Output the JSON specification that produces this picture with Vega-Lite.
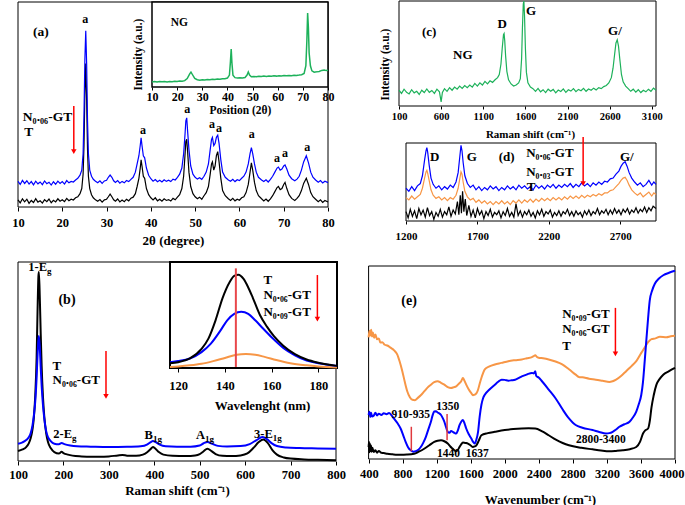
{
"$schema": "https://vega.github.io/schema/vega-lite/v6.json",
"width": 685, "height": 505, "autosize": {"type": "none"}, "padding": 0,
"config": {
 "view": {"stroke": null},
 "axis": {"grid": false, "domain": false, "format": "d", "labelFont": "Liberation Serif", "labelFontWeight": "bold", "labelColor": "#000", "titleFont": "Liberation Serif", "titleFontWeight": "bold", "titleColor": "#000", "tickColor": "#000", "labelFlush": false, "labelOverlap": false, "titleBaseline": "middle", "titleAlign": "center"},
 "text": {"font": "Liberation Serif", "fontWeight": "bold", "baseline": "middle", "color": "#000"}
},
"resolve": {"scale": {"x": "independent", "y": "independent", "color": "independent"}, "axis": {"x": "independent", "y": "independent"}, "legend": {"color": "independent"}},
"datasets": {
 "a_main": [
{"x":10,"y":3.5,"s":"T"},{"x":10.5,"y":2,"s":"T"},{"x":11,"y":4,"s":"T"},{"x":11.5,"y":2.5,"s":"T"},{"x":12,"y":3.8,"s":"T"},{"x":12.5,"y":1.8,"s":"T"},{"x":13,"y":3.2,"s":"T"},{"x":13.5,"y":2.2,"s":"T"},{"x":14,"y":4.1,"s":"T"},{"x":14.5,"y":2.4,"s":"T"},{"x":15,"y":3,"s":"T"},{"x":15.5,"y":1.9,"s":"T"},{"x":16,"y":3.6,"s":"T"},{"x":16.5,"y":2.6,"s":"T"},{"x":17,"y":3.9,"s":"T"},{"x":17.5,"y":2.1,"s":"T"},{"x":18,"y":3.3,"s":"T"},{"x":18.5,"y":2.5,"s":"T"},{"x":19,"y":4,"s":"T"},{"x":19.5,"y":2.8,"s":"T"},{"x":20,"y":3.5,"s":"T"},{"x":20.5,"y":2.6,"s":"T"},{"x":21,"y":4.2,"s":"T"},{"x":21.5,"y":3.1,"s":"T"},{"x":22,"y":3.8,"s":"T"},{"x":22.5,"y":3.4,"s":"T"},{"x":23,"y":4.5,"s":"T"},{"x":23.5,"y":5,"s":"T"},{"x":24,"y":6.5,"s":"T"},{"x":24.4,"y":9,"s":"T"},{"x":24.7,"y":16,"s":"T"},{"x":24.9,"y":30,"s":"T"},{"x":25.1,"y":55,"s":"T"},{"x":25.3,"y":70,"s":"T"},{"x":25.5,"y":52,"s":"T"},{"x":25.7,"y":28,"s":"T"},{"x":25.9,"y":15,"s":"T"},{"x":26.2,"y":9,"s":"T"},{"x":26.6,"y":6,"s":"T"},{"x":27,"y":4.5,"s":"T"},{"x":27.5,"y":3.5,"s":"T"},{"x":28,"y":2.8,"s":"T"},{"x":28.5,"y":3.6,"s":"T"},{"x":29,"y":2.4,"s":"T"},{"x":29.5,"y":3.5,"s":"T"},{"x":30,"y":3.8,"s":"T"},{"x":30.4,"y":5,"s":"T"},{"x":30.8,"y":6.3,"s":"T"},{"x":31.2,"y":5,"s":"T"},{"x":31.6,"y":3.5,"s":"T"},{"x":32,"y":2.8,"s":"T"},{"x":32.5,"y":3.9,"s":"T"},{"x":33,"y":2.5,"s":"T"},{"x":33.5,"y":3.4,"s":"T"},{"x":34,"y":2.6,"s":"T"},{"x":34.5,"y":3.8,"s":"T"},{"x":35,"y":3,"s":"T"},{"x":35.5,"y":4.3,"s":"T"},{"x":36,"y":4.8,"s":"T"},{"x":36.5,"y":6.5,"s":"T"},{"x":36.9,"y":10,"s":"T"},{"x":37.3,"y":14,"s":"T"},{"x":37.6,"y":19,"s":"T"},{"x":37.8,"y":23,"s":"T"},{"x":38,"y":20,"s":"T"},{"x":38.3,"y":15,"s":"T"},{"x":38.6,"y":14,"s":"T"},{"x":39,"y":9,"s":"T"},{"x":39.5,"y":6,"s":"T"},{"x":40,"y":4.5,"s":"T"},{"x":40.5,"y":3.5,"s":"T"},{"x":41,"y":4.5,"s":"T"},{"x":41.5,"y":3,"s":"T"},{"x":42,"y":3.8,"s":"T"},{"x":42.5,"y":2.8,"s":"T"},{"x":43,"y":4,"s":"T"},{"x":43.5,"y":3.2,"s":"T"},{"x":44,"y":3.6,"s":"T"},{"x":44.5,"y":2.9,"s":"T"},{"x":45,"y":4.2,"s":"T"},{"x":45.5,"y":3.5,"s":"T"},{"x":46,"y":4.8,"s":"T"},{"x":46.5,"y":6,"s":"T"},{"x":47,"y":9,"s":"T"},{"x":47.4,"y":15,"s":"T"},{"x":47.7,"y":25,"s":"T"},{"x":47.9,"y":32,"s":"T"},{"x":48.1,"y":33,"s":"T"},{"x":48.3,"y":27,"s":"T"},{"x":48.6,"y":17,"s":"T"},{"x":49,"y":10,"s":"T"},{"x":49.5,"y":6.5,"s":"T"},{"x":50,"y":5,"s":"T"},{"x":50.5,"y":4,"s":"T"},{"x":51,"y":4.8,"s":"T"},{"x":51.5,"y":3.8,"s":"T"},{"x":52,"y":5.5,"s":"T"},{"x":52.5,"y":7,"s":"T"},{"x":53,"y":10,"s":"T"},{"x":53.4,"y":16,"s":"T"},{"x":53.7,"y":21,"s":"T"},{"x":53.9,"y":22,"s":"T"},{"x":54.2,"y":18,"s":"T"},{"x":54.5,"y":20,"s":"T"},{"x":54.8,"y":25,"s":"T"},{"x":55.1,"y":27,"s":"T"},{"x":55.4,"y":22,"s":"T"},{"x":55.8,"y":14,"s":"T"},{"x":56.2,"y":8,"s":"T"},{"x":56.8,"y":5.5,"s":"T"},{"x":57.5,"y":4,"s":"T"},{"x":58,"y":3.2,"s":"T"},{"x":58.5,"y":4.2,"s":"T"},{"x":59,"y":3,"s":"T"},{"x":59.5,"y":3.8,"s":"T"},{"x":60,"y":3.3,"s":"T"},{"x":60.5,"y":4.5,"s":"T"},{"x":61,"y":5,"s":"T"},{"x":61.5,"y":7,"s":"T"},{"x":62,"y":11,"s":"T"},{"x":62.4,"y":17,"s":"T"},{"x":62.7,"y":21.5,"s":"T"},{"x":63,"y":18,"s":"T"},{"x":63.4,"y":12,"s":"T"},{"x":63.8,"y":8,"s":"T"},{"x":64.3,"y":5.5,"s":"T"},{"x":65,"y":4,"s":"T"},{"x":65.5,"y":3,"s":"T"},{"x":66,"y":3.9,"s":"T"},{"x":66.5,"y":2.8,"s":"T"},{"x":67,"y":4,"s":"T"},{"x":67.5,"y":5.5,"s":"T"},{"x":68,"y":7.5,"s":"T"},{"x":68.5,"y":9.5,"s":"T"},{"x":68.8,"y":10,"s":"T"},{"x":69.2,"y":8.5,"s":"T"},{"x":69.6,"y":9,"s":"T"},{"x":70,"y":11,"s":"T"},{"x":70.3,"y":12,"s":"T"},{"x":70.7,"y":9,"s":"T"},{"x":71.2,"y":6,"s":"T"},{"x":71.8,"y":4.2,"s":"T"},{"x":72.5,"y":3.2,"s":"T"},{"x":73,"y":4.2,"s":"T"},{"x":73.5,"y":5.5,"s":"T"},{"x":74,"y":8,"s":"T"},{"x":74.5,"y":11.5,"s":"T"},{"x":75.1,"y":14,"s":"T"},{"x":75.6,"y":11,"s":"T"},{"x":76.1,"y":7,"s":"T"},{"x":76.6,"y":5,"s":"T"},{"x":77.2,"y":3.8,"s":"T"},{"x":77.8,"y":2.6,"s":"T"},{"x":78.3,"y":3.5,"s":"T"},{"x":78.8,"y":2.2,"s":"T"},{"x":79.3,"y":3.2,"s":"T"},{"x":80,"y":2.4,"s":"T"},
{"x":10,"y":12.5,"s":"N"},{"x":10.5,"y":11,"s":"N"},{"x":11,"y":13,"s":"N"},{"x":11.5,"y":11.5,"s":"N"},{"x":12,"y":12.8,"s":"N"},{"x":12.5,"y":11.2,"s":"N"},{"x":13,"y":12.4,"s":"N"},{"x":13.5,"y":10.8,"s":"N"},{"x":14,"y":12.6,"s":"N"},{"x":14.5,"y":11.3,"s":"N"},{"x":15,"y":12.2,"s":"N"},{"x":15.5,"y":10.9,"s":"N"},{"x":16,"y":12.7,"s":"N"},{"x":16.5,"y":11.4,"s":"N"},{"x":17,"y":12.1,"s":"N"},{"x":17.5,"y":10.7,"s":"N"},{"x":18,"y":12.3,"s":"N"},{"x":18.5,"y":11.1,"s":"N"},{"x":19,"y":12.6,"s":"N"},{"x":19.5,"y":11.5,"s":"N"},{"x":20,"y":12.4,"s":"N"},{"x":20.5,"y":11.2,"s":"N"},{"x":21,"y":12.9,"s":"N"},{"x":21.5,"y":11.8,"s":"N"},{"x":22,"y":12.5,"s":"N"},{"x":22.5,"y":12.2,"s":"N"},{"x":23,"y":13.2,"s":"N"},{"x":23.5,"y":14,"s":"N"},{"x":24,"y":15.5,"s":"N"},{"x":24.4,"y":18,"s":"N"},{"x":24.7,"y":26,"s":"N"},{"x":24.9,"y":45,"s":"N"},{"x":25.1,"y":72,"s":"N"},{"x":25.3,"y":86,"s":"N"},{"x":25.5,"y":70,"s":"N"},{"x":25.7,"y":42,"s":"N"},{"x":25.9,"y":26,"s":"N"},{"x":26.2,"y":18,"s":"N"},{"x":26.6,"y":15,"s":"N"},{"x":27,"y":13.5,"s":"N"},{"x":27.5,"y":12.6,"s":"N"},{"x":28,"y":11.8,"s":"N"},{"x":28.5,"y":12.8,"s":"N"},{"x":29,"y":11.5,"s":"N"},{"x":29.5,"y":12.7,"s":"N"},{"x":30,"y":13,"s":"N"},{"x":30.4,"y":14.5,"s":"N"},{"x":30.8,"y":15.6,"s":"N"},{"x":31.2,"y":14.5,"s":"N"},{"x":31.6,"y":12.8,"s":"N"},{"x":32,"y":12,"s":"N"},{"x":32.5,"y":12.9,"s":"N"},{"x":33,"y":11.6,"s":"N"},{"x":33.5,"y":12.5,"s":"N"},{"x":34,"y":11.8,"s":"N"},{"x":34.5,"y":12.9,"s":"N"},{"x":35,"y":12.4,"s":"N"},{"x":35.5,"y":13.5,"s":"N"},{"x":36,"y":14.5,"s":"N"},{"x":36.5,"y":17,"s":"N"},{"x":36.9,"y":21,"s":"N"},{"x":37.3,"y":25,"s":"N"},{"x":37.6,"y":30,"s":"N"},{"x":37.8,"y":33.7,"s":"N"},{"x":38,"y":30,"s":"N"},{"x":38.3,"y":25,"s":"N"},{"x":38.6,"y":24,"s":"N"},{"x":39,"y":19,"s":"N"},{"x":39.5,"y":15.5,"s":"N"},{"x":40,"y":13.8,"s":"N"},{"x":40.5,"y":12.6,"s":"N"},{"x":41,"y":13.4,"s":"N"},{"x":41.5,"y":12.3,"s":"N"},{"x":42,"y":13,"s":"N"},{"x":42.5,"y":12.2,"s":"N"},{"x":43,"y":13.3,"s":"N"},{"x":43.5,"y":12.5,"s":"N"},{"x":44,"y":13.1,"s":"N"},{"x":44.5,"y":12.4,"s":"N"},{"x":45,"y":13.6,"s":"N"},{"x":45.5,"y":13.2,"s":"N"},{"x":46,"y":14.5,"s":"N"},{"x":46.5,"y":16,"s":"N"},{"x":47,"y":19,"s":"N"},{"x":47.4,"y":26,"s":"N"},{"x":47.7,"y":35,"s":"N"},{"x":47.9,"y":42,"s":"N"},{"x":48.1,"y":43.5,"s":"N"},{"x":48.3,"y":37,"s":"N"},{"x":48.6,"y":28,"s":"N"},{"x":49,"y":20,"s":"N"},{"x":49.5,"y":16,"s":"N"},{"x":50,"y":14.5,"s":"N"},{"x":50.5,"y":13.6,"s":"N"},{"x":51,"y":14.3,"s":"N"},{"x":51.5,"y":13.5,"s":"N"},{"x":52,"y":15,"s":"N"},{"x":52.5,"y":17,"s":"N"},{"x":53,"y":21,"s":"N"},{"x":53.4,"y":28,"s":"N"},{"x":53.7,"y":33,"s":"N"},{"x":53.9,"y":34,"s":"N"},{"x":54.2,"y":30,"s":"N"},{"x":54.5,"y":31,"s":"N"},{"x":54.8,"y":34,"s":"N"},{"x":55.1,"y":35,"s":"N"},{"x":55.4,"y":31,"s":"N"},{"x":55.8,"y":23,"s":"N"},{"x":56.2,"y":17,"s":"N"},{"x":56.8,"y":14.5,"s":"N"},{"x":57.5,"y":13.2,"s":"N"},{"x":58,"y":12.6,"s":"N"},{"x":58.5,"y":13.5,"s":"N"},{"x":59,"y":12.4,"s":"N"},{"x":59.5,"y":13.3,"s":"N"},{"x":60,"y":12.9,"s":"N"},{"x":60.5,"y":14,"s":"N"},{"x":61,"y":15,"s":"N"},{"x":61.5,"y":17,"s":"N"},{"x":62,"y":21,"s":"N"},{"x":62.4,"y":26,"s":"N"},{"x":62.7,"y":29,"s":"N"},{"x":63,"y":26,"s":"N"},{"x":63.4,"y":21,"s":"N"},{"x":63.8,"y":17,"s":"N"},{"x":64.3,"y":14.5,"s":"N"},{"x":65,"y":13.2,"s":"N"},{"x":65.5,"y":12.4,"s":"N"},{"x":66,"y":13.3,"s":"N"},{"x":66.5,"y":12.2,"s":"N"},{"x":67,"y":13.5,"s":"N"},{"x":67.5,"y":15,"s":"N"},{"x":68,"y":17,"s":"N"},{"x":68.5,"y":19,"s":"N"},{"x":68.8,"y":19.5,"s":"N"},{"x":69.2,"y":18,"s":"N"},{"x":69.6,"y":18.5,"s":"N"},{"x":70,"y":20,"s":"N"},{"x":70.3,"y":20.5,"s":"N"},{"x":70.7,"y":18.5,"s":"N"},{"x":71.2,"y":15.5,"s":"N"},{"x":71.8,"y":13.8,"s":"N"},{"x":72.5,"y":12.8,"s":"N"},{"x":73,"y":13.6,"s":"N"},{"x":73.5,"y":15,"s":"N"},{"x":74,"y":18,"s":"N"},{"x":74.5,"y":22,"s":"N"},{"x":75.1,"y":25,"s":"N"},{"x":75.6,"y":21.5,"s":"N"},{"x":76.1,"y":17,"s":"N"},{"x":76.6,"y":14.5,"s":"N"},{"x":77.2,"y":13.2,"s":"N"},{"x":77.8,"y":12.1,"s":"N"},{"x":78.3,"y":12.9,"s":"N"},{"x":78.8,"y":11.7,"s":"N"},{"x":79.3,"y":12.6,"s":"N"},{"x":80,"y":11.9,"s":"N"}
 ],
 "a_in": [
{"x":10,"y":6},{"x":11,"y":6.5},{"x":12,"y":5.8},{"x":13,"y":6.4},{"x":14,"y":6.1},{"x":15,"y":6.6},{"x":16,"y":6},{"x":17,"y":6.5},{"x":18,"y":6.3},{"x":19,"y":6.8},{"x":20,"y":6.4},{"x":21,"y":7},{"x":22,"y":6.8},{"x":23,"y":7.5},{"x":24,"y":10},{"x":25,"y":15.5},{"x":25.5,"y":17.6},{"x":26,"y":15},{"x":27,"y":10},{"x":28,"y":8.5},{"x":29,"y":8},{"x":30,"y":8.4},{"x":31,"y":8.2},{"x":32,"y":8.7},{"x":33,"y":8.5},{"x":34,"y":9},{"x":35,"y":8.8},{"x":36,"y":9.3},{"x":37,"y":9.1},{"x":38,"y":9.6},{"x":39,"y":9.8},{"x":40,"y":10.5},{"x":40.8,"y":14},{"x":41.2,"y":30},{"x":41.5,"y":44.7},{"x":41.8,"y":28},{"x":42.2,"y":14},{"x":43,"y":11},{"x":44,"y":10.6},{"x":45,"y":10.8},{"x":46,"y":10.5},{"x":47,"y":11.2},{"x":47.8,"y":14},{"x":48.3,"y":17.6},{"x":48.8,"y":14},{"x":49.5,"y":12},{"x":50.5,"y":12.3},{"x":51.5,"y":12},{"x":52.5,"y":12.6},{"x":53.5,"y":12.4},{"x":54.5,"y":12.8},{"x":55.5,"y":12.5},{"x":56.5,"y":13},{"x":57.5,"y":12.7},{"x":58.5,"y":13.1},{"x":59.5,"y":12.8},{"x":60.5,"y":13.3},{"x":61.5,"y":13},{"x":62.5,"y":13.4},{"x":63.5,"y":13.1},{"x":64.5,"y":13.5},{"x":65.5,"y":13.3},{"x":66.5,"y":13.7},{"x":67.5,"y":13.6},{"x":68.5,"y":14},{"x":69.5,"y":14.5},{"x":70.5,"y":16},{"x":71.2,"y":25},{"x":71.6,"y":55},{"x":71.9,"y":87},{"x":72.2,"y":70},{"x":72.5,"y":40},{"x":73,"y":25},{"x":73.6,"y":19},{"x":74.5,"y":17.5},{"x":75.5,"y":17.8},{"x":76.5,"y":18.2},{"x":77.5,"y":19.5},{"x":78.5,"y":20},{"x":79.3,"y":19.3},{"x":80,"y":19.8}
 ],
 "c": [
{"x":100,"y":15},{"x":130,"y":12},{"x":160,"y":16},{"x":190,"y":13},{"x":220,"y":11.5},{"x":250,"y":15.5},{"x":280,"y":12.5},{"x":310,"y":14},{"x":340,"y":11},{"x":370,"y":15},{"x":400,"y":12.8},{"x":430,"y":16.2},{"x":460,"y":13},{"x":490,"y":14.8},{"x":520,"y":12},{"x":550,"y":16},{"x":580,"y":13.5},{"x":600,"y":4},{"x":615,"y":13},{"x":640,"y":16.5},{"x":670,"y":14},{"x":700,"y":17.5},{"x":730,"y":15},{"x":760,"y":18},{"x":790,"y":16},{"x":820,"y":19},{"x":850,"y":16.8},{"x":880,"y":19.5},{"x":910,"y":17.5},{"x":940,"y":20},{"x":970,"y":18},{"x":1000,"y":21.5},{"x":1030,"y":19},{"x":1060,"y":22},{"x":1090,"y":20},{"x":1120,"y":23.5},{"x":1150,"y":21},{"x":1180,"y":24},{"x":1210,"y":22.5},{"x":1240,"y":25},{"x":1270,"y":27},{"x":1290,"y":30},{"x":1310,"y":40},{"x":1325,"y":55},{"x":1340,"y":68},{"x":1347,"y":69},{"x":1355,"y":62},{"x":1365,"y":48},{"x":1380,"y":33},{"x":1400,"y":25},{"x":1430,"y":21},{"x":1460,"y":19},{"x":1490,"y":20},{"x":1520,"y":22},{"x":1540,"y":26},{"x":1555,"y":45},{"x":1565,"y":75},{"x":1575,"y":97},{"x":1582,"y":100},{"x":1590,"y":85},{"x":1600,"y":55},{"x":1612,"y":32},{"x":1630,"y":22},{"x":1660,"y":18},{"x":1690,"y":16.5},{"x":1720,"y":14},{"x":1750,"y":16.8},{"x":1780,"y":13.5},{"x":1810,"y":15.5},{"x":1840,"y":12.8},{"x":1870,"y":16},{"x":1900,"y":14},{"x":1930,"y":15.8},{"x":1960,"y":12.5},{"x":1990,"y":15.2},{"x":2020,"y":13.8},{"x":2050,"y":16.3},{"x":2080,"y":13},{"x":2110,"y":15.5},{"x":2140,"y":14.2},{"x":2170,"y":16.5},{"x":2200,"y":13.6},{"x":2230,"y":15.8},{"x":2260,"y":14.5},{"x":2290,"y":16.8},{"x":2320,"y":14},{"x":2350,"y":16.2},{"x":2380,"y":15},{"x":2410,"y":17},{"x":2440,"y":15.2},{"x":2470,"y":17.5},{"x":2500,"y":16.5},{"x":2530,"y":18.5},{"x":2560,"y":19.5},{"x":2590,"y":22},{"x":2620,"y":27},{"x":2640,"y":36},{"x":2660,"y":50},{"x":2675,"y":60},{"x":2690,"y":63},{"x":2705,"y":57},{"x":2720,"y":45},{"x":2740,"y":30},{"x":2760,"y":23},{"x":2790,"y":19},{"x":2820,"y":16.5},{"x":2850,"y":14},{"x":2880,"y":16},{"x":2910,"y":13.2},{"x":2940,"y":15.5},{"x":2970,"y":12.8},{"x":3000,"y":15},{"x":3030,"y":13.5},{"x":3060,"y":16},{"x":3090,"y":14},{"x":3120,"y":17},{"x":3150,"y":15}
 ],
 "d": [
{"x":1200,"y":42,"s":"N6"},{"x":1220,"y":38,"s":"N6"},{"x":1240,"y":44,"s":"N6"},{"x":1260,"y":39,"s":"N6"},{"x":1280,"y":45,"s":"N6"},{"x":1300,"y":48,"s":"N6"},{"x":1315,"y":58,"s":"N6"},{"x":1330,"y":78,"s":"N6"},{"x":1340,"y":90,"s":"N6"},{"x":1346,"y":94,"s":"N6"},{"x":1352,"y":88,"s":"N6"},{"x":1362,"y":72,"s":"N6"},{"x":1375,"y":55,"s":"N6"},{"x":1390,"y":47,"s":"N6"},{"x":1410,"y":42,"s":"N6"},{"x":1430,"y":45,"s":"N6"},{"x":1450,"y":40,"s":"N6"},{"x":1470,"y":44,"s":"N6"},{"x":1490,"y":41,"s":"N6"},{"x":1510,"y":46,"s":"N6"},{"x":1530,"y":43,"s":"N6"},{"x":1550,"y":50,"s":"N6"},{"x":1565,"y":62,"s":"N6"},{"x":1578,"y":85,"s":"N6"},{"x":1585,"y":97,"s":"N6"},{"x":1592,"y":90,"s":"N6"},{"x":1600,"y":75,"s":"N6"},{"x":1612,"y":58,"s":"N6"},{"x":1630,"y":48,"s":"N6"},{"x":1650,"y":43,"s":"N6"},{"x":1670,"y":46,"s":"N6"},{"x":1690,"y":40,"s":"N6"},{"x":1710,"y":44,"s":"N6"},{"x":1730,"y":39,"s":"N6"},{"x":1750,"y":43,"s":"N6"},{"x":1770,"y":40,"s":"N6"},{"x":1790,"y":45,"s":"N6"},{"x":1810,"y":41,"s":"N6"},{"x":1830,"y":44,"s":"N6"},{"x":1850,"y":39,"s":"N6"},{"x":1870,"y":43,"s":"N6"},{"x":1890,"y":40,"s":"N6"},{"x":1910,"y":45,"s":"N6"},{"x":1930,"y":41,"s":"N6"},{"x":1950,"y":44,"s":"N6"},{"x":1970,"y":40,"s":"N6"},{"x":1990,"y":46,"s":"N6"},{"x":2010,"y":42,"s":"N6"},{"x":2030,"y":45,"s":"N6"},{"x":2050,"y":41,"s":"N6"},{"x":2070,"y":44,"s":"N6"},{"x":2090,"y":40,"s":"N6"},{"x":2110,"y":46,"s":"N6"},{"x":2130,"y":42,"s":"N6"},{"x":2150,"y":45,"s":"N6"},{"x":2170,"y":41,"s":"N6"},{"x":2190,"y":46,"s":"N6"},{"x":2210,"y":43,"s":"N6"},{"x":2230,"y":47,"s":"N6"},{"x":2250,"y":42,"s":"N6"},{"x":2270,"y":46,"s":"N6"},{"x":2290,"y":43,"s":"N6"},{"x":2310,"y":47,"s":"N6"},{"x":2330,"y":44,"s":"N6"},{"x":2350,"y":48,"s":"N6"},{"x":2370,"y":43,"s":"N6"},{"x":2390,"y":47,"s":"N6"},{"x":2410,"y":44,"s":"N6"},{"x":2430,"y":49,"s":"N6"},{"x":2450,"y":45,"s":"N6"},{"x":2470,"y":48,"s":"N6"},{"x":2490,"y":44,"s":"N6"},{"x":2510,"y":49,"s":"N6"},{"x":2530,"y":46,"s":"N6"},{"x":2550,"y":50,"s":"N6"},{"x":2570,"y":47,"s":"N6"},{"x":2590,"y":51,"s":"N6"},{"x":2610,"y":50,"s":"N6"},{"x":2630,"y":54,"s":"N6"},{"x":2650,"y":55,"s":"N6"},{"x":2670,"y":60,"s":"N6"},{"x":2690,"y":64,"s":"N6"},{"x":2705,"y":70,"s":"N6"},{"x":2720,"y":74,"s":"N6"},{"x":2734,"y":76,"s":"N6"},{"x":2748,"y":70,"s":"N6"},{"x":2762,"y":62,"s":"N6"},{"x":2780,"y":55,"s":"N6"},{"x":2800,"y":50,"s":"N6"},{"x":2820,"y":46,"s":"N6"},{"x":2840,"y":49,"s":"N6"},{"x":2860,"y":44,"s":"N6"},{"x":2880,"y":47,"s":"N6"},{"x":2900,"y":52,"s":"N6"},{"x":2920,"y":46,"s":"N6"},{"x":2935,"y":50,"s":"N6"},{"x":2950,"y":47,"s":"N6"},
{"x":1200,"y":30,"s":"N3"},{"x":1220,"y":27,"s":"N3"},{"x":1240,"y":32,"s":"N3"},{"x":1260,"y":28,"s":"N3"},{"x":1280,"y":31,"s":"N3"},{"x":1300,"y":34,"s":"N3"},{"x":1315,"y":42,"s":"N3"},{"x":1330,"y":55,"s":"N3"},{"x":1340,"y":63,"s":"N3"},{"x":1346,"y":65,"s":"N3"},{"x":1352,"y":61,"s":"N3"},{"x":1362,"y":52,"s":"N3"},{"x":1375,"y":40,"s":"N3"},{"x":1390,"y":33,"s":"N3"},{"x":1410,"y":29,"s":"N3"},{"x":1430,"y":31,"s":"N3"},{"x":1450,"y":27,"s":"N3"},{"x":1470,"y":30,"s":"N3"},{"x":1490,"y":26,"s":"N3"},{"x":1510,"y":30,"s":"N3"},{"x":1530,"y":28,"s":"N3"},{"x":1550,"y":33,"s":"N3"},{"x":1565,"y":42,"s":"N3"},{"x":1578,"y":56,"s":"N3"},{"x":1585,"y":63,"s":"N3"},{"x":1592,"y":60,"s":"N3"},{"x":1600,"y":50,"s":"N3"},{"x":1612,"y":38,"s":"N3"},{"x":1630,"y":31,"s":"N3"},{"x":1650,"y":27,"s":"N3"},{"x":1670,"y":29,"s":"N3"},{"x":1690,"y":24,"s":"N3"},{"x":1710,"y":27,"s":"N3"},{"x":1730,"y":23,"s":"N3"},{"x":1750,"y":26,"s":"N3"},{"x":1770,"y":22,"s":"N3"},{"x":1790,"y":25,"s":"N3"},{"x":1810,"y":21,"s":"N3"},{"x":1830,"y":25,"s":"N3"},{"x":1850,"y":22,"s":"N3"},{"x":1870,"y":26,"s":"N3"},{"x":1890,"y":22,"s":"N3"},{"x":1910,"y":25,"s":"N3"},{"x":1930,"y":21,"s":"N3"},{"x":1950,"y":26,"s":"N3"},{"x":1970,"y":23,"s":"N3"},{"x":1990,"y":27,"s":"N3"},{"x":2010,"y":23,"s":"N3"},{"x":2030,"y":27,"s":"N3"},{"x":2050,"y":24,"s":"N3"},{"x":2070,"y":28,"s":"N3"},{"x":2090,"y":24,"s":"N3"},{"x":2110,"y":28,"s":"N3"},{"x":2130,"y":25,"s":"N3"},{"x":2150,"y":29,"s":"N3"},{"x":2170,"y":26,"s":"N3"},{"x":2190,"y":29,"s":"N3"},{"x":2210,"y":26,"s":"N3"},{"x":2230,"y":30,"s":"N3"},{"x":2250,"y":27,"s":"N3"},{"x":2270,"y":30,"s":"N3"},{"x":2290,"y":27,"s":"N3"},{"x":2310,"y":31,"s":"N3"},{"x":2330,"y":28,"s":"N3"},{"x":2350,"y":32,"s":"N3"},{"x":2370,"y":29,"s":"N3"},{"x":2390,"y":32,"s":"N3"},{"x":2410,"y":29,"s":"N3"},{"x":2430,"y":33,"s":"N3"},{"x":2450,"y":30,"s":"N3"},{"x":2470,"y":33,"s":"N3"},{"x":2490,"y":31,"s":"N3"},{"x":2510,"y":34,"s":"N3"},{"x":2530,"y":32,"s":"N3"},{"x":2550,"y":35,"s":"N3"},{"x":2570,"y":33,"s":"N3"},{"x":2590,"y":36,"s":"N3"},{"x":2610,"y":36,"s":"N3"},{"x":2630,"y":39,"s":"N3"},{"x":2650,"y":40,"s":"N3"},{"x":2670,"y":44,"s":"N3"},{"x":2690,"y":48,"s":"N3"},{"x":2705,"y":52,"s":"N3"},{"x":2720,"y":55,"s":"N3"},{"x":2734,"y":56,"s":"N3"},{"x":2748,"y":52,"s":"N3"},{"x":2762,"y":46,"s":"N3"},{"x":2780,"y":40,"s":"N3"},{"x":2800,"y":36,"s":"N3"},{"x":2820,"y":33,"s":"N3"},{"x":2840,"y":36,"s":"N3"},{"x":2860,"y":31,"s":"N3"},{"x":2880,"y":34,"s":"N3"},{"x":2900,"y":37,"s":"N3"},{"x":2920,"y":32,"s":"N3"},{"x":2935,"y":36,"s":"N3"},{"x":2950,"y":34,"s":"N3"},
{"x":1200,"y":12,"s":"T"},{"x":1215,"y":4,"s":"T"},{"x":1230,"y":15,"s":"T"},{"x":1245,"y":6,"s":"T"},{"x":1260,"y":13,"s":"T"},{"x":1275,"y":3,"s":"T"},{"x":1290,"y":16,"s":"T"},{"x":1305,"y":8,"s":"T"},{"x":1320,"y":14,"s":"T"},{"x":1335,"y":5,"s":"T"},{"x":1350,"y":17,"s":"T"},{"x":1365,"y":7,"s":"T"},{"x":1380,"y":12,"s":"T"},{"x":1395,"y":2,"s":"T"},{"x":1410,"y":11,"s":"T"},{"x":1425,"y":6,"s":"T"},{"x":1440,"y":15,"s":"T"},{"x":1455,"y":5,"s":"T"},{"x":1470,"y":12,"s":"T"},{"x":1485,"y":8,"s":"T"},{"x":1500,"y":18,"s":"T"},{"x":1515,"y":6,"s":"T"},{"x":1530,"y":14,"s":"T"},{"x":1545,"y":9,"s":"T"},{"x":1560,"y":25,"s":"T"},{"x":1570,"y":8,"s":"T"},{"x":1580,"y":33,"s":"T"},{"x":1588,"y":10,"s":"T"},{"x":1596,"y":38,"s":"T"},{"x":1605,"y":12,"s":"T"},{"x":1615,"y":28,"s":"T"},{"x":1625,"y":7,"s":"T"},{"x":1640,"y":20,"s":"T"},{"x":1655,"y":6,"s":"T"},{"x":1670,"y":14,"s":"T"},{"x":1685,"y":4,"s":"T"},{"x":1700,"y":16,"s":"T"},{"x":1715,"y":8,"s":"T"},{"x":1730,"y":13,"s":"T"},{"x":1745,"y":3,"s":"T"},{"x":1760,"y":12,"s":"T"},{"x":1775,"y":7,"s":"T"},{"x":1790,"y":15,"s":"T"},{"x":1805,"y":5,"s":"T"},{"x":1820,"y":11,"s":"T"},{"x":1835,"y":8,"s":"T"},{"x":1850,"y":13,"s":"T"},{"x":1865,"y":4,"s":"T"},{"x":1880,"y":12,"s":"T"},{"x":1895,"y":7,"s":"T"},{"x":1910,"y":16,"s":"T"},{"x":1925,"y":6,"s":"T"},{"x":1940,"y":11,"s":"T"},{"x":1955,"y":5,"s":"T"},{"x":1970,"y":22,"s":"T"},{"x":1985,"y":7,"s":"T"},{"x":2000,"y":13,"s":"T"},{"x":2015,"y":5,"s":"T"},{"x":2030,"y":12,"s":"T"},{"x":2045,"y":8,"s":"T"},{"x":2060,"y":14,"s":"T"},{"x":2075,"y":6,"s":"T"},{"x":2090,"y":11,"s":"T"},{"x":2105,"y":4,"s":"T"},{"x":2120,"y":13,"s":"T"},{"x":2135,"y":8,"s":"T"},{"x":2150,"y":15,"s":"T"},{"x":2165,"y":6,"s":"T"},{"x":2180,"y":12,"s":"T"},{"x":2195,"y":9,"s":"T"},{"x":2210,"y":14,"s":"T"},{"x":2225,"y":5,"s":"T"},{"x":2240,"y":11,"s":"T"},{"x":2255,"y":7,"s":"T"},{"x":2270,"y":13,"s":"T"},{"x":2285,"y":6,"s":"T"},{"x":2300,"y":12,"s":"T"},{"x":2315,"y":9,"s":"T"},{"x":2330,"y":15,"s":"T"},{"x":2345,"y":7,"s":"T"},{"x":2360,"y":12,"s":"T"},{"x":2375,"y":6,"s":"T"},{"x":2390,"y":13,"s":"T"},{"x":2405,"y":8,"s":"T"},{"x":2420,"y":11,"s":"T"},{"x":2435,"y":5,"s":"T"},{"x":2450,"y":13,"s":"T"},{"x":2465,"y":8,"s":"T"},{"x":2480,"y":14,"s":"T"},{"x":2495,"y":7,"s":"T"},{"x":2510,"y":12,"s":"T"},{"x":2525,"y":9,"s":"T"},{"x":2540,"y":16,"s":"T"},{"x":2555,"y":8,"s":"T"},{"x":2570,"y":13,"s":"T"},{"x":2585,"y":10,"s":"T"},{"x":2600,"y":15,"s":"T"},{"x":2615,"y":8,"s":"T"},{"x":2630,"y":14,"s":"T"},{"x":2645,"y":9,"s":"T"},{"x":2660,"y":16,"s":"T"},{"x":2675,"y":10,"s":"T"},{"x":2690,"y":14,"s":"T"},{"x":2705,"y":8,"s":"T"},{"x":2720,"y":15,"s":"T"},{"x":2735,"y":11,"s":"T"},{"x":2750,"y":16,"s":"T"},{"x":2765,"y":9,"s":"T"},{"x":2780,"y":14,"s":"T"},{"x":2795,"y":11,"s":"T"},{"x":2810,"y":17,"s":"T"},{"x":2825,"y":10,"s":"T"},{"x":2840,"y":15,"s":"T"},{"x":2855,"y":12,"s":"T"},{"x":2870,"y":18,"s":"T"},{"x":2885,"y":11,"s":"T"},{"x":2900,"y":17,"s":"T"},{"x":2915,"y":13,"s":"T"},{"x":2930,"y":19,"s":"T"},{"x":2950,"y":16,"s":"T"}
 ],
 "b": [
{"x":100,"y":5,"s":"T"},{"x":110,"y":5.8,"s":"T"},{"x":118,"y":7,"s":"T"},{"x":124,"y":9,"s":"T"},{"x":128,"y":11.5,"s":"T"},{"x":132,"y":16,"s":"T"},{"x":135,"y":22,"s":"T"},{"x":138,"y":33,"s":"T"},{"x":141,"y":52,"s":"T"},{"x":143,"y":75,"s":"T"},{"x":145,"y":93,"s":"T"},{"x":146,"y":95,"s":"T"},{"x":148,"y":82,"s":"T"},{"x":150,"y":64,"s":"T"},{"x":152,"y":48,"s":"T"},{"x":155,"y":32,"s":"T"},{"x":158,"y":22,"s":"T"},{"x":162,"y":14,"s":"T"},{"x":166,"y":9.5,"s":"T"},{"x":172,"y":6.5,"s":"T"},{"x":180,"y":4.5,"s":"T"},{"x":190,"y":3.8,"s":"T"},{"x":196,"y":4.6,"s":"T"},{"x":200,"y":4,"s":"T"},{"x":210,"y":3.2,"s":"T"},{"x":220,"y":2.7,"s":"T"},{"x":240,"y":2.3,"s":"T"},{"x":260,"y":2.1,"s":"T"},{"x":280,"y":2.1,"s":"T"},{"x":300,"y":2.3,"s":"T"},{"x":320,"y":2.8,"s":"T"},{"x":330,"y":3,"s":"T"},{"x":340,"y":2.7,"s":"T"},{"x":360,"y":2.6,"s":"T"},{"x":375,"y":3.2,"s":"T"},{"x":385,"y":4.5,"s":"T"},{"x":392,"y":6,"s":"T"},{"x":397,"y":7,"s":"T"},{"x":402,"y":6.3,"s":"T"},{"x":410,"y":4.5,"s":"T"},{"x":420,"y":3.2,"s":"T"},{"x":440,"y":2.6,"s":"T"},{"x":470,"y":2.5,"s":"T"},{"x":490,"y":2.8,"s":"T"},{"x":500,"y":3.5,"s":"T"},{"x":508,"y":4.8,"s":"T"},{"x":517,"y":6.2,"s":"T"},{"x":526,"y":5,"s":"T"},{"x":535,"y":3.5,"s":"T"},{"x":550,"y":2.6,"s":"T"},{"x":570,"y":2.5,"s":"T"},{"x":590,"y":2.8,"s":"T"},{"x":605,"y":3.8,"s":"T"},{"x":618,"y":6.5,"s":"T"},{"x":630,"y":9.5,"s":"T"},{"x":640,"y":10.8,"s":"T"},{"x":650,"y":9,"s":"T"},{"x":660,"y":5.5,"s":"T"},{"x":670,"y":3.2,"s":"T"},{"x":685,"y":1.8,"s":"T"},{"x":700,"y":1.2,"s":"T"},{"x":730,"y":0.8,"s":"T"},{"x":760,"y":0.6,"s":"T"},{"x":800,"y":0.4,"s":"T"},
{"x":100,"y":8.7,"s":"N"},{"x":110,"y":9.4,"s":"N"},{"x":118,"y":10.5,"s":"N"},{"x":124,"y":12,"s":"N"},{"x":128,"y":14,"s":"N"},{"x":132,"y":18,"s":"N"},{"x":135,"y":23,"s":"N"},{"x":138,"y":30,"s":"N"},{"x":141,"y":42,"s":"N"},{"x":143,"y":53,"s":"N"},{"x":145,"y":61,"s":"N"},{"x":146,"y":62.8,"s":"N"},{"x":148,"y":57,"s":"N"},{"x":150,"y":47,"s":"N"},{"x":152,"y":38,"s":"N"},{"x":155,"y":28,"s":"N"},{"x":158,"y":21,"s":"N"},{"x":162,"y":15,"s":"N"},{"x":166,"y":12,"s":"N"},{"x":172,"y":10,"s":"N"},{"x":180,"y":8.7,"s":"N"},{"x":190,"y":8.4,"s":"N"},{"x":196,"y":9,"s":"N"},{"x":202,"y":8.5,"s":"N"},{"x":215,"y":7.8,"s":"N"},{"x":230,"y":7.4,"s":"N"},{"x":260,"y":7.2,"s":"N"},{"x":300,"y":7,"s":"N"},{"x":340,"y":7.1,"s":"N"},{"x":370,"y":7.4,"s":"N"},{"x":385,"y":8.4,"s":"N"},{"x":392,"y":9.5,"s":"N"},{"x":397,"y":10,"s":"N"},{"x":403,"y":9.5,"s":"N"},{"x":412,"y":8.2,"s":"N"},{"x":425,"y":7.4,"s":"N"},{"x":450,"y":7.2,"s":"N"},{"x":480,"y":7.2,"s":"N"},{"x":500,"y":7.8,"s":"N"},{"x":508,"y":8.8,"s":"N"},{"x":517,"y":9.6,"s":"N"},{"x":526,"y":8.8,"s":"N"},{"x":540,"y":7.6,"s":"N"},{"x":560,"y":7.3,"s":"N"},{"x":590,"y":7.5,"s":"N"},{"x":610,"y":8.5,"s":"N"},{"x":625,"y":10.5,"s":"N"},{"x":638,"y":12,"s":"N"},{"x":648,"y":11,"s":"N"},{"x":658,"y":9,"s":"N"},{"x":670,"y":7.5,"s":"N"},{"x":690,"y":6.8,"s":"N"},{"x":720,"y":6.5,"s":"N"},{"x":760,"y":6.3,"s":"N"},{"x":800,"y":6.1,"s":"N"}
 ],
 "bi": [
{"x":116.5,"y":1,"s":"N9"},{"x":120,"y":1.5,"s":"N9"},{"x":125,"y":2.5,"s":"N9"},{"x":130,"y":4,"s":"N9"},{"x":135,"y":6.5,"s":"N9"},{"x":140,"y":9.5,"s":"N9"},{"x":145,"y":12.5,"s":"N9"},{"x":149,"y":13.2,"s":"N9"},{"x":153,"y":12.5,"s":"N9"},{"x":157,"y":10.5,"s":"N9"},{"x":162,"y":7.5,"s":"N9"},{"x":168,"y":4.5,"s":"N9"},{"x":175,"y":2.5,"s":"N9"},{"x":180,"y":1.5,"s":"N9"},{"x":188,"y":0.5,"s":"N9"},
{"x":116.5,"y":5.5,"s":"N6"},{"x":120,"y":6.5,"s":"N6"},{"x":125,"y":9,"s":"N6"},{"x":130,"y":15,"s":"N6"},{"x":134,"y":23,"s":"N6"},{"x":138,"y":35,"s":"N6"},{"x":141,"y":45,"s":"N6"},{"x":144,"y":51,"s":"N6"},{"x":147,"y":53,"s":"N6"},{"x":150,"y":51,"s":"N6"},{"x":153,"y":45,"s":"N6"},{"x":156,"y":38,"s":"N6"},{"x":160,"y":29,"s":"N6"},{"x":165,"y":19,"s":"N6"},{"x":170,"y":12,"s":"N6"},{"x":175,"y":7,"s":"N6"},{"x":180,"y":4.5,"s":"N6"},{"x":188,"y":2,"s":"N6"},
{"x":116.5,"y":4.5,"s":"T"},{"x":120,"y":5.5,"s":"T"},{"x":125,"y":9,"s":"T"},{"x":130,"y":18,"s":"T"},{"x":133,"y":28,"s":"T"},{"x":136,"y":45,"s":"T"},{"x":139,"y":66,"s":"T"},{"x":142,"y":81,"s":"T"},{"x":144,"y":87,"s":"T"},{"x":145.8,"y":88,"s":"T"},{"x":148,"y":84,"s":"T"},{"x":150,"y":76,"s":"T"},{"x":152,"y":66,"s":"T"},{"x":155,"y":50,"s":"T"},{"x":158,"y":39,"s":"T"},{"x":161,"y":30,"s":"T"},{"x":165,"y":21,"s":"T"},{"x":170,"y":13,"s":"T"},{"x":175,"y":8,"s":"T"},{"x":180,"y":5,"s":"T"},{"x":188,"y":2,"s":"T"}
 ],
 "e": [
{"x":400,"y":63,"s":"N9"},{"x":410,"y":66.5,"s":"N9"},{"x":420,"y":64,"s":"N9"},{"x":430,"y":67,"s":"N9"},{"x":440,"y":63.5,"s":"N9"},{"x":450,"y":65.5,"s":"N9"},{"x":465,"y":62.8,"s":"N9"},{"x":480,"y":64.5,"s":"N9"},{"x":500,"y":62,"s":"N9"},{"x":520,"y":62.5,"s":"N9"},{"x":538,"y":60.3,"s":"N9"},{"x":560,"y":60.5,"s":"N9"},{"x":590,"y":59.2,"s":"N9"},{"x":620,"y":58.8,"s":"N9"},{"x":657,"y":57.7,"s":"N9"},{"x":700,"y":56.3,"s":"N9"},{"x":736,"y":54.2,"s":"N9"},{"x":765,"y":50.5,"s":"N9"},{"x":796,"y":45.5,"s":"N9"},{"x":825,"y":40,"s":"N9"},{"x":855,"y":35,"s":"N9"},{"x":885,"y":32,"s":"N9"},{"x":914,"y":30.7,"s":"N9"},{"x":945,"y":30.5,"s":"N9"},{"x":974,"y":31.5,"s":"N9"},{"x":1013,"y":33,"s":"N9"},{"x":1053,"y":35,"s":"N9"},{"x":1092,"y":37,"s":"N9"},{"x":1132,"y":38.5,"s":"N9"},{"x":1171,"y":39.8,"s":"N9"},{"x":1211,"y":40.3,"s":"N9"},{"x":1250,"y":39.5,"s":"N9"},{"x":1290,"y":38.5,"s":"N9"},{"x":1330,"y":37.2,"s":"N9"},{"x":1369,"y":36.8,"s":"N9"},{"x":1400,"y":37.2,"s":"N9"},{"x":1429,"y":37.6,"s":"N9"},{"x":1460,"y":39,"s":"N9"},{"x":1488,"y":40.3,"s":"N9"},{"x":1508,"y":42,"s":"N9"},{"x":1527,"y":40.5,"s":"N9"},{"x":1547,"y":38.5,"s":"N9"},{"x":1577,"y":36,"s":"N9"},{"x":1607,"y":34.1,"s":"N9"},{"x":1626,"y":33,"s":"N9"},{"x":1646,"y":33.3,"s":"N9"},{"x":1666,"y":34,"s":"N9"},{"x":1686,"y":35.9,"s":"N9"},{"x":1705,"y":39,"s":"N9"},{"x":1725,"y":42,"s":"N9"},{"x":1745,"y":44.5,"s":"N9"},{"x":1765,"y":46.4,"s":"N9"},{"x":1820,"y":48,"s":"N9"},{"x":1883,"y":49,"s":"N9"},{"x":1960,"y":49.8,"s":"N9"},{"x":2042,"y":50.7,"s":"N9"},{"x":2120,"y":51.2,"s":"N9"},{"x":2200,"y":51.6,"s":"N9"},{"x":2260,"y":52.2,"s":"N9"},{"x":2319,"y":52.8,"s":"N9"},{"x":2340,"y":53.3,"s":"N9"},{"x":2358,"y":53.8,"s":"N9"},{"x":2375,"y":53,"s":"N9"},{"x":2398,"y":52.5,"s":"N9"},{"x":2450,"y":52.2,"s":"N9"},{"x":2516,"y":51.6,"s":"N9"},{"x":2596,"y":50.5,"s":"N9"},{"x":2675,"y":49,"s":"N9"},{"x":2754,"y":46.5,"s":"N9"},{"x":2833,"y":43.7,"s":"N9"},{"x":2870,"y":42.5,"s":"N9"},{"x":2912,"y":42.3,"s":"N9"},{"x":2990,"y":41.6,"s":"N9"},{"x":3070,"y":41.1,"s":"N9"},{"x":3150,"y":40.5,"s":"N9"},{"x":3229,"y":39.9,"s":"N9"},{"x":3268,"y":40.3,"s":"N9"},{"x":3308,"y":41.1,"s":"N9"},{"x":3366,"y":43,"s":"N9"},{"x":3426,"y":45.5,"s":"N9"},{"x":3486,"y":48,"s":"N9"},{"x":3545,"y":50.7,"s":"N9"},{"x":3604,"y":55,"s":"N9"},{"x":3644,"y":57.7,"s":"N9"},{"x":3684,"y":60.5,"s":"N9"},{"x":3723,"y":62.1,"s":"N9"},{"x":3770,"y":62.5,"s":"N9"},{"x":3822,"y":63.3,"s":"N9"},{"x":3900,"y":63.1,"s":"N9"},{"x":3950,"y":63.6,"s":"N9"},{"x":4000,"y":63.8,"s":"N9"},
{"x":400,"y":22.8,"s":"N6"},{"x":410,"y":24.5,"s":"N6"},{"x":420,"y":21.8,"s":"N6"},{"x":430,"y":23.9,"s":"N6"},{"x":440,"y":22,"s":"N6"},{"x":459,"y":22.4,"s":"N6"},{"x":480,"y":24,"s":"N6"},{"x":500,"y":22.5,"s":"N6"},{"x":520,"y":23.5,"s":"N6"},{"x":550,"y":22.8,"s":"N6"},{"x":578,"y":23.7,"s":"N6"},{"x":610,"y":23.2,"s":"N6"},{"x":640,"y":23.8,"s":"N6"},{"x":670,"y":22.6,"s":"N6"},{"x":697,"y":21,"s":"N6"},{"x":740,"y":18.5,"s":"N6"},{"x":776,"y":15.8,"s":"N6"},{"x":805,"y":12.5,"s":"N6"},{"x":835,"y":8.9,"s":"N6"},{"x":865,"y":6,"s":"N6"},{"x":895,"y":4.5,"s":"N6"},{"x":925,"y":3.8,"s":"N6"},{"x":954,"y":4,"s":"N6"},{"x":985,"y":4.8,"s":"N6"},{"x":1013,"y":6.2,"s":"N6"},{"x":1043,"y":8.5,"s":"N6"},{"x":1073,"y":11.5,"s":"N6"},{"x":1103,"y":15.5,"s":"N6"},{"x":1132,"y":19.3,"s":"N6"},{"x":1151,"y":22.5,"s":"N6"},{"x":1171,"y":24.6,"s":"N6"},{"x":1191,"y":24.8,"s":"N6"},{"x":1211,"y":24.1,"s":"N6"},{"x":1231,"y":23.6,"s":"N6"},{"x":1251,"y":22.8,"s":"N6"},{"x":1270,"y":21.3,"s":"N6"},{"x":1290,"y":19.3,"s":"N6"},{"x":1310,"y":16.5,"s":"N6"},{"x":1330,"y":14.1,"s":"N6"},{"x":1350,"y":13.6,"s":"N6"},{"x":1370,"y":14.5,"s":"N6"},{"x":1389,"y":14.1,"s":"N6"},{"x":1410,"y":13.5,"s":"N6"},{"x":1429,"y":13.2,"s":"N6"},{"x":1450,"y":15,"s":"N6"},{"x":1468,"y":17.5,"s":"N6"},{"x":1488,"y":19.3,"s":"N6"},{"x":1508,"y":20.2,"s":"N6"},{"x":1527,"y":18.5,"s":"N6"},{"x":1547,"y":15.8,"s":"N6"},{"x":1577,"y":12.8,"s":"N6"},{"x":1607,"y":10.6,"s":"N6"},{"x":1626,"y":9,"s":"N6"},{"x":1646,"y":8,"s":"N6"},{"x":1666,"y":10,"s":"N6"},{"x":1686,"y":14.1,"s":"N6"},{"x":1705,"y":22,"s":"N6"},{"x":1725,"y":28,"s":"N6"},{"x":1745,"y":31.5,"s":"N6"},{"x":1765,"y":33.3,"s":"N6"},{"x":1820,"y":36,"s":"N6"},{"x":1883,"y":38.5,"s":"N6"},{"x":1923,"y":40,"s":"N6"},{"x":1963,"y":41.1,"s":"N6"},{"x":2000,"y":41,"s":"N6"},{"x":2042,"y":40.6,"s":"N6"},{"x":2080,"y":40.8,"s":"N6"},{"x":2121,"y":41.1,"s":"N6"},{"x":2160,"y":41.9,"s":"N6"},{"x":2200,"y":42.8,"s":"N6"},{"x":2260,"y":43.8,"s":"N6"},{"x":2319,"y":44.6,"s":"N6"},{"x":2340,"y":44.3,"s":"N6"},{"x":2358,"y":45.5,"s":"N6"},{"x":2370,"y":43,"s":"N6"},{"x":2398,"y":42.2,"s":"N6"},{"x":2437,"y":40.3,"s":"N6"},{"x":2516,"y":36,"s":"N6"},{"x":2596,"y":31.5,"s":"N6"},{"x":2675,"y":26,"s":"N6"},{"x":2754,"y":21,"s":"N6"},{"x":2800,"y":18.8,"s":"N6"},{"x":2833,"y":17.6,"s":"N6"},{"x":2912,"y":16.2,"s":"N6"},{"x":3031,"y":15,"s":"N6"},{"x":3110,"y":14,"s":"N6"},{"x":3189,"y":13.2,"s":"N6"},{"x":3229,"y":13.4,"s":"N6"},{"x":3268,"y":14.1,"s":"N6"},{"x":3308,"y":15.3,"s":"N6"},{"x":3347,"y":16.7,"s":"N6"},{"x":3406,"y":18,"s":"N6"},{"x":3466,"y":19.3,"s":"N6"},{"x":3505,"y":21.5,"s":"N6"},{"x":3545,"y":24.6,"s":"N6"},{"x":3575,"y":28.5,"s":"N6"},{"x":3604,"y":33.3,"s":"N6"},{"x":3624,"y":40,"s":"N6"},{"x":3644,"y":50.7,"s":"N6"},{"x":3664,"y":62,"s":"N6"},{"x":3684,"y":73,"s":"N6"},{"x":3703,"y":82.1,"s":"N6"},{"x":3733,"y":87.5,"s":"N6"},{"x":3763,"y":90.8,"s":"N6"},{"x":3812,"y":93.5,"s":"N6"},{"x":3862,"y":95.2,"s":"N6"},{"x":3930,"y":96.5,"s":"N6"},{"x":4000,"y":97.5,"s":"N6"},
{"x":400,"y":6.2,"s":"T"},{"x":405,"y":9,"s":"T"},{"x":410,"y":3.5,"s":"T"},{"x":415,"y":8,"s":"T"},{"x":420,"y":4,"s":"T"},{"x":428,"y":7,"s":"T"},{"x":435,"y":3.8,"s":"T"},{"x":445,"y":5.8,"s":"T"},{"x":459,"y":3.6,"s":"T"},{"x":480,"y":4.5,"s":"T"},{"x":500,"y":3.3,"s":"T"},{"x":520,"y":4.2,"s":"T"},{"x":550,"y":3.2,"s":"T"},{"x":578,"y":3.1,"s":"T"},{"x":620,"y":2.7,"s":"T"},{"x":680,"y":2.4,"s":"T"},{"x":736,"y":2.2,"s":"T"},{"x":776,"y":2.2,"s":"T"},{"x":850,"y":2.3,"s":"T"},{"x":934,"y":2.7,"s":"T"},{"x":990,"y":3.8,"s":"T"},{"x":1053,"y":5.3,"s":"T"},{"x":1110,"y":7,"s":"T"},{"x":1171,"y":8.9,"s":"T"},{"x":1211,"y":9.5,"s":"T"},{"x":1251,"y":9.7,"s":"T"},{"x":1290,"y":9.2,"s":"T"},{"x":1330,"y":8,"s":"T"},{"x":1360,"y":6.5,"s":"T"},{"x":1389,"y":5.3,"s":"T"},{"x":1410,"y":4.4,"s":"T"},{"x":1429,"y":4,"s":"T"},{"x":1450,"y":4.8,"s":"T"},{"x":1468,"y":6.2,"s":"T"},{"x":1488,"y":7.6,"s":"T"},{"x":1508,"y":8.5,"s":"T"},{"x":1540,"y":8.3,"s":"T"},{"x":1567,"y":8,"s":"T"},{"x":1600,"y":7,"s":"T"},{"x":1626,"y":6.2,"s":"T"},{"x":1646,"y":6.5,"s":"T"},{"x":1666,"y":7.1,"s":"T"},{"x":1695,"y":9.5,"s":"T"},{"x":1725,"y":12.3,"s":"T"},{"x":1800,"y":13.4,"s":"T"},{"x":1883,"y":14.1,"s":"T"},{"x":2000,"y":15,"s":"T"},{"x":2100,"y":15.5,"s":"T"},{"x":2200,"y":15.8,"s":"T"},{"x":2280,"y":15.9,"s":"T"},{"x":2358,"y":15.8,"s":"T"},{"x":2440,"y":14.3,"s":"T"},{"x":2516,"y":12.3,"s":"T"},{"x":2600,"y":10,"s":"T"},{"x":2680,"y":8.3,"s":"T"},{"x":2754,"y":7.1,"s":"T"},{"x":2900,"y":5.8,"s":"T"},{"x":3031,"y":5,"s":"T"},{"x":3130,"y":4.4,"s":"T"},{"x":3229,"y":4,"s":"T"},{"x":3310,"y":4.2,"s":"T"},{"x":3387,"y":4.5,"s":"T"},{"x":3470,"y":5.1,"s":"T"},{"x":3545,"y":6.2,"s":"T"},{"x":3590,"y":9,"s":"T"},{"x":3624,"y":13.2,"s":"T"},{"x":3650,"y":14.8,"s":"T"},{"x":3684,"y":15.8,"s":"T"},{"x":3705,"y":20,"s":"T"},{"x":3723,"y":26.5,"s":"T"},{"x":3750,"y":33,"s":"T"},{"x":3782,"y":38.5,"s":"T"},{"x":3820,"y":41.5,"s":"T"},{"x":3862,"y":43.7,"s":"T"},{"x":3930,"y":45.5,"s":"T"},{"x":4000,"y":47.2,"s":"T"}
 ]
},
"layer": [
 {
  "encoding": {
   "x": {"field": "x", "type": "quantitative", "scale": {"domain": [10, 80], "range": [18, 328], "nice": false, "zero": false},
    "axis": {"orient": "bottom", "offset": -298, "values": [10,20,30,40,50,60,70,80], "title": "2θ (degree)", "titleX": 173, "titleY": 33, "titleFontSize": 13, "labelFontSize": 12.5, "tickSize": 4, "labelPadding": 5}},
   "y": {"field": "y", "type": "quantitative", "scale": {"domain": [0, 100], "range": [207, 2], "nice": false, "zero": false},
    "axis": {"orient": "left", "offset": -18, "labels": false, "ticks": false, "title": "Intensity (a.u.)", "titleX": -8, "titleY": 119, "titleFontSize": 13}}
  },
  "layer": [
   {"data": {"values": [{"x": 10, "x2": 80, "y": 0, "y2": 100}]}, "mark": {"type": "rect", "fill": "transparent", "stroke": "#000", "strokeWidth": 1}, "encoding": {"x2": {"field": "x2"}, "y2": {"field": "y2"}}},
   {"data": {"name": "a_main"}, "mark": {"type": "line", "strokeWidth": 1.2}, "encoding": {"color": {"field": "s", "type": "nominal", "scale": {"domain": ["T", "N"], "range": ["#000000", "#0000FF"]}, "legend": null}}},
   {"data": {"values": [{"x":25.2,"y":91.5,"t":"a"},{"x":38.2,"y":37.5,"t":"a"},{"x":48.2,"y":47.8,"t":"a"},{"x":53.8,"y":40.5,"t":"a"},{"x":55.4,"y":38.5,"t":"a"},{"x":62.8,"y":35.8,"t":"a"},{"x":68.5,"y":24,"t":"a"},{"x":70.3,"y":26.3,"t":"a"},{"x":75.3,"y":29.2,"t":"a"}]}, "mark": {"type": "text", "fontSize": 12}, "encoding": {"text": {"field": "t"}}},
   {"data": {"values": [{"x":11.1,"y":43.9,"t":"N₀.₀₆-GT"},{"x":11.4,"y":36.6,"t":"T"},{"x":13.4,"y":85.4,"t":"(a)"}]}, "mark": {"type": "text", "fontSize": 13.5, "align": "left"}, "encoding": {"text": {"field": "t"}}},
   {"data": {"values": [{"x": 22.6, "y": 49.3, "y2": 27}]}, "mark": {"type": "rule", "color": "#FF0000", "strokeWidth": 1.5}, "encoding": {"y2": {"field": "y2"}}},
   {"data": {"values": [{"x": 22.6, "y": 49.3, "y2": 27}]}, "mark": {"type": "point", "shape": "triangle-down", "filled": true, "color": "#FF0000", "opacity": 1, "size": 30}, "encoding": {"y": {"field": "y2", "type": "quantitative", "axis": null}}}
  ]
 },
 {
  "encoding": {
   "x": {"field": "x", "type": "quantitative", "scale": {"domain": [10, 80], "range": [152, 328], "nice": false, "zero": false},
    "axis": {"orient": "bottom", "offset": -418, "values": [10,20,30,40,50,60,70,80], "title": "Position (2θ)", "titleX": 240, "titleY": 23, "titleFontSize": 11.5, "labelFontSize": 12, "tickSize": 3, "labelPadding": 1}},
   "y": {"field": "y", "type": "quantitative", "scale": {"domain": [0, 100], "range": [87, 2], "nice": false, "zero": false},
    "axis": {"orient": "left", "offset": -152, "labels": false, "ticks": false, "title": "Intensity (a.u.)", "titleX": -14, "titleY": 54, "titleFontSize": 11.5}}
  },
  "layer": [
   {"data": {"values": [{"x": 10, "x2": 80, "y": 0, "y2": 100}]}, "mark": {"type": "rect", "fill": "#FFFFFF", "stroke": "#000", "strokeWidth": 1.5}, "encoding": {"x2": {"field": "x2"}, "y2": {"field": "y2"}}},
   {"data": {"name": "a_in"}, "mark": {"type": "line", "strokeWidth": 1.5, "color": "#1DB15A"}},
   {"data": {"values": [{"x": 20.9, "y": 75, "t": "NG"}]}, "mark": {"type": "text", "fontSize": 11.5}, "encoding": {"text": {"field": "t"}}}
  ]
 },
 {
  "encoding": {
   "x": {"field": "x", "type": "quantitative", "scale": {"domain": [100, 3150], "range": [399, 656], "nice": false, "zero": false},
    "axis": {"orient": "bottom", "offset": -399, "values": [100,600,1100,1600,2100,2600,3100], "title": "Raman shift (cm⁻¹)", "titleX": 530, "titleY": 28, "titleFontSize": 11, "labelFontSize": 10.5, "tickSize": 3, "labelPadding": 2}},
   "y": {"field": "y", "type": "quantitative", "scale": {"domain": [0, 100], "range": [106, 1], "nice": false, "zero": false},
    "axis": {"orient": "left", "offset": -399, "labels": false, "ticks": false, "title": "Intensity (a.u.)", "titleX": -14, "titleY": 64, "titleFontSize": 11.5}}
  },
  "layer": [
   {"data": {"values": [{"x": 100, "x2": 3150, "y": 0, "y2": 100}]}, "mark": {"type": "rect", "fill": "transparent", "stroke": "#000", "strokeWidth": 1}, "encoding": {"x2": {"field": "x2"}, "y2": {"field": "y2"}}},
   {"data": {"name": "c"}, "mark": {"type": "line", "strokeWidth": 1.2, "color": "#1DB15A"}},
   {"data": {"values": [{"x":458,"y":70.5,"t":"(c)"},{"x":858,"y":49,"t":"NG"},{"x":1326,"y":77.9,"t":"D"},{"x":1667,"y":90.7,"t":"G"},{"x":2663,"y":71.4,"t":"G/"}]}, "mark": {"type": "text", "fontSize": 13}, "encoding": {"text": {"field": "t"}}}
  ]
 },
 {
  "encoding": {
   "x": {"field": "x", "type": "quantitative", "scale": {"domain": [1200, 2950], "range": [406, 656], "nice": false, "zero": false},
    "axis": {"orient": "bottom", "offset": -284, "values": [1200,1700,2200,2700], "title": null, "labelFontSize": 11, "tickSize": 3, "labelPadding": 6}},
   "y": {"field": "y", "type": "quantitative", "scale": {"domain": [0, 100], "range": [221, 143], "nice": false, "zero": false},
    "axis": {"orient": "left", "offset": -406, "labels": false, "ticks": false, "title": "Intensity (a.u.)", "titleX": -10.5, "titleY": 183, "titleFontSize": 11}}
  },
  "layer": [
   {"data": {"values": [{"x": 1200, "x2": 2950, "y": 0, "y2": 100}]}, "mark": {"type": "rect", "fill": "transparent", "stroke": "#000", "strokeWidth": 1}, "encoding": {"x2": {"field": "x2"}, "y2": {"field": "y2"}}},
   {"data": {"name": "d"}, "mark": {"type": "line", "strokeWidth": 1.2}, "encoding": {"color": {"field": "s", "type": "nominal", "scale": {"domain": ["N6", "N3", "T"], "range": ["#0000FF", "#F79646", "#000000"]}, "legend": null}}},
   {"data": {"values": [{"x":1400,"y":81.9,"t":"D"},{"x":1661,"y":81.9,"t":"G"},{"x":1905,"y":81.9,"t":"(d)"},{"x":2746,"y":81.9,"t":"G/"}]}, "mark": {"type": "text", "fontSize": 13}, "encoding": {"text": {"field": "t"}}},
   {"data": {"values": [{"x":2041,"y":87,"t":"N₀.₀₆-GT"},{"x":2041,"y":62.4,"t":"N₀.₀₃-GT"},{"x":2046,"y":43.1,"t":"T"}]}, "mark": {"type": "text", "fontSize": 13, "align": "left"}, "encoding": {"text": {"field": "t"}}},
   {"data": {"values": [{"x": 2440, "y": 107.8, "y2": 48}]}, "mark": {"type": "rule", "color": "#FF0000", "strokeWidth": 1.5}, "encoding": {"y2": {"field": "y2"}}},
   {"data": {"values": [{"x": 2440, "y": 107.8, "y2": 48}]}, "mark": {"type": "point", "shape": "triangle-down", "filled": true, "color": "#FF0000", "opacity": 1, "size": 30}, "encoding": {"y": {"field": "y2", "type": "quantitative", "axis": null}}}
  ]
 },
 {
  "encoding": {
   "x": {"field": "x", "type": "quantitative", "scale": {"domain": [100, 800], "range": [18, 336], "nice": false, "zero": false},
    "axis": {"orient": "bottom", "offset": -44, "values": [100,200,300,400,500,600,700,800], "title": "Raman shift (cm⁻¹)", "titleX": 177, "titleY": 29, "titleFontSize": 13, "labelFontSize": 12.5, "tickSize": 4, "labelPadding": 3.5}},
   "y": {"field": "y", "type": "quantitative", "scale": {"domain": [0, 100], "range": [461, 262], "nice": false, "zero": false},
    "axis": {"orient": "left", "offset": -18, "labels": false, "ticks": false, "title": "Intensity (a.u.)", "titleX": -10, "titleY": 361, "titleFontSize": 13}}
  },
  "layer": [
   {"data": {"values": [{"x": 100, "x2": 800, "y": 0, "y2": 100}]}, "mark": {"type": "rect", "fill": "transparent", "stroke": "#000", "strokeWidth": 1}, "encoding": {"x2": {"field": "x2"}, "y2": {"field": "y2"}}},
   {"data": {"name": "b"}, "mark": {"type": "line", "strokeWidth": 2, "interpolate": "monotone"}, "encoding": {"color": {"field": "s", "type": "nominal", "scale": {"domain": ["T", "N"], "range": ["#000000", "#0000FF"]}, "legend": null}}},
   {"data": {"values": [{"x":163.8,"y":97.6,"b":"1-E","u":"g"},{"x":218.9,"y":13.8,"b":"2-E","u":"g"},{"x":397,"y":13.3,"b":"B","u":"1g"},{"x":511.6,"y":13.3,"b":"A","u":"1g"},{"x":661,"y":13.8,"b":"3-E","u":"1g"}]}, "mark": {"type": "text", "fontSize": 12.5, "align": "right"}, "encoding": {"text": {"field": "b"}}},
   {"data": {"values": [{"x":163.8,"y":97.6,"b":"1-E","u":"g"},{"x":218.9,"y":13.8,"b":"2-E","u":"g"},{"x":397,"y":13.3,"b":"B","u":"1g"},{"x":511.6,"y":13.3,"b":"A","u":"1g"},{"x":661,"y":13.8,"b":"3-E","u":"1g"}]}, "mark": {"type": "text", "fontSize": 9, "align": "left", "dy": 4}, "encoding": {"text": {"field": "u"}}},
   {"data": {"values": [{"x":207.9,"y":80.9,"t":"(b)"}]}, "mark": {"type": "text", "fontSize": 14}, "encoding": {"text": {"field": "t"}}},
   {"data": {"values": [{"x":176,"y":47.7,"t":"T"},{"x":176,"y":40.7,"t":"N₀.₀₆-GT"}]}, "mark": {"type": "text", "fontSize": 13, "align": "left"}, "encoding": {"text": {"field": "t"}}},
   {"data": {"values": [{"x": 293.7, "y": 55.3, "y2": 32.5}]}, "mark": {"type": "rule", "color": "#FF0000", "strokeWidth": 1.5}, "encoding": {"y2": {"field": "y2"}}},
   {"data": {"values": [{"x": 293.7, "y": 55.3, "y2": 32.5}]}, "mark": {"type": "point", "shape": "triangle-down", "filled": true, "color": "#FF0000", "opacity": 1, "size": 30}, "encoding": {"y": {"field": "y2", "type": "quantitative", "axis": null}}}
  ]
 },
 {
  "encoding": {
   "x": {"field": "x", "type": "quantitative", "scale": {"domain": [116.5, 188], "range": [170, 337], "nice": false, "zero": false},
    "axis": {"orient": "bottom", "offset": -137, "values": [120,140,160,180], "title": "Wavelenght (nm)", "titleX": 262, "titleY": 37, "titleFontSize": 13, "labelFontSize": 12.5, "tickSize": 4, "labelPadding": 7}},
   "y": {"field": "y", "type": "quantitative", "scale": {"domain": [0, 100], "range": [368, 262], "nice": false, "zero": false},
    "axis": {"orient": "left", "offset": -170, "labels": false, "ticks": false, "title": "Intensity (a.u.)", "titleX": -12.4, "titleY": 314, "titleFontSize": 13}}
  },
  "layer": [
   {"data": {"values": [{"x": 116.5, "x2": 188, "y": 0, "y2": 100}]}, "mark": {"type": "rect", "fill": "#FFFFFF", "stroke": "#000", "strokeWidth": 2}, "encoding": {"x2": {"field": "x2"}, "y2": {"field": "y2"}}},
   {"data": {"name": "bi"}, "mark": {"type": "line", "strokeWidth": 2, "interpolate": "monotone"}, "encoding": {"color": {"field": "s", "type": "nominal", "scale": {"domain": ["N9", "N6", "T"], "range": ["#F79646", "#0000FF", "#000000"]}, "legend": null}}},
   {"data": {"values": [{"x": 144.7, "y": 94, "y2": 1}]}, "mark": {"type": "rule", "color": "#E8474B", "strokeWidth": 2}, "encoding": {"y2": {"field": "y2"}}},
   {"data": {"values": [{"x":156.5,"y":83,"t":"T"},{"x":156.5,"y":68.9,"t":"N₀.₀₆-GT"},{"x":156.5,"y":52.8,"t":"N₀.₀₉-GT"}]}, "mark": {"type": "text", "fontSize": 13, "align": "left"}, "encoding": {"text": {"field": "t"}}},
   {"data": {"values": [{"x": 179.6, "y": 87.7, "y2": 46}]}, "mark": {"type": "rule", "color": "#FF0000", "strokeWidth": 1.5}, "encoding": {"y2": {"field": "y2"}}},
   {"data": {"values": [{"x": 179.6, "y": 87.7, "y2": 46}]}, "mark": {"type": "point", "shape": "triangle-down", "filled": true, "color": "#FF0000", "opacity": 1, "size": 30}, "encoding": {"y": {"field": "y2", "type": "quantitative", "axis": null}}}
  ]
 },
 {
  "encoding": {
   "x": {"field": "x", "type": "quantitative", "scale": {"domain": [400, 4000], "range": [368.6, 675], "nice": false, "zero": false},
    "axis": {"orient": "bottom", "offset": -46, "values": [400,800,1200,1600,2000,2400,2800,3200,3600,4000], "title": "Wavenumber (cm⁻¹)", "titleX": 540, "titleY": 40, "titleFontSize": 13, "labelFontSize": 12.5, "tickSize": 4, "labelPadding": 4.5, "labelFlush": true, "labelFlushOffset": 9}},
   "y": {"field": "y", "type": "quantitative", "scale": {"domain": [0, 100], "range": [459, 266], "nice": false, "zero": false},
    "axis": {"orient": "left", "offset": -368.6, "labels": false, "ticks": false, "title": "% Transmittance", "titleX": -11.6, "titleY": 373, "titleFontSize": 12.5}}
  },
  "layer": [
   {"data": {"values": [{"x": 400, "x2": 4000, "y": 0, "y2": 100}]}, "mark": {"type": "rect", "fill": "transparent", "stroke": "#000", "strokeWidth": 1}, "encoding": {"x2": {"field": "x2"}, "y2": {"field": "y2"}}},
   {"data": {"name": "e"}, "mark": {"type": "line", "strokeWidth": 2, "interpolate": "monotone"}, "encoding": {"color": {"field": "s", "type": "nominal", "scale": {"domain": ["N9", "N6", "T"], "range": ["#F79646", "#0000FF", "#000000"]}, "legend": null}}},
   {"data": {"values": [{"x": 902, "y": 16.7, "y2": 4}, {"x": 1322, "y": 23.3, "y2": 9.7}]}, "mark": {"type": "rule", "color": "#E0393E", "strokeWidth": 1.5}, "encoding": {"y2": {"field": "y2"}}},
   {"data": {"values": [{"x":895,"y":22.8,"t":"910-935"},{"x":1330,"y":27.2,"t":"1350"},{"x":1338,"y":2.7,"t":"1440"},{"x":1678,"y":2.7,"t":"1637"},{"x":3130,"y":9.7,"t":"2800-3400"}]}, "mark": {"type": "text", "fontSize": 11.5}, "encoding": {"text": {"field": "t"}}},
   {"data": {"values": [{"x":875,"y":82.1,"t":"(e)"}]}, "mark": {"type": "text", "fontSize": 14}, "encoding": {"text": {"field": "t"}}},
   {"data": {"values": [{"x":2675,"y":75.1,"t":"N₀.₀₉-GT"},{"x":2675,"y":67.3,"t":"N₀.₀₆-GT"},{"x":2675,"y":58.5,"t":"T"}]}, "mark": {"type": "text", "fontSize": 13, "align": "left"}, "encoding": {"text": {"field": "t"}}},
   {"data": {"values": [{"x": 3300, "y": 78.3, "y2": 54.5}]}, "mark": {"type": "rule", "color": "#FF0000", "strokeWidth": 1.5}, "encoding": {"y2": {"field": "y2"}}},
   {"data": {"values": [{"x": 3300, "y": 78.3, "y2": 54.5}]}, "mark": {"type": "point", "shape": "triangle-down", "filled": true, "color": "#FF0000", "opacity": 1, "size": 30}, "encoding": {"y": {"field": "y2", "type": "quantitative", "axis": null}}}
  ]
 }
]
}
